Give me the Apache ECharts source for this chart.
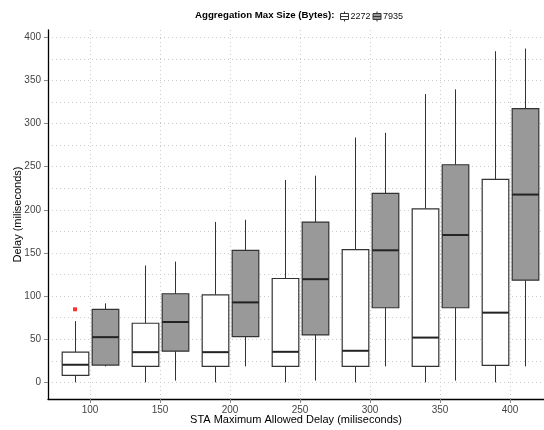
<!DOCTYPE html>
<html>
<head>
<meta charset="utf-8">
<style>
  html, body { margin: 0; padding: 0; background: #fff; }
  #main { width: 544px; height: 430px; }
</style>
<script src="https://cdn.jsdelivr.net/npm/echarts@6/dist/echarts.min.js"></script>
</head>
<body>
<div id="main"></div>
<script>
var categories = [100, 150, 200, 250, 300, 350, 400];
var yTicks = [0, 50, 100, 150, 200, 250, 300, 350, 400];
var yMinor = [25, 75, 125, 175, 225, 275, 325, 375];
var seriesNames = ['2272', '7935'];

// [min, Q1, median, Q3, max] per category
var box2272 = [
  [0, 8, 20.4, 35, 71],
  [0, 18.5, 35, 68.5, 135.5],
  [0, 18.5, 35, 101.5, 186],
  [0, 18.5, 35.4, 120.4, 234.7],
  [0, 18.5, 36.6, 153.9, 283.9],
  [0, 18.5, 51.9, 201.2, 334.3],
  [0, 19.6, 80.8, 235.4, 383.9]
];
var box7935 = [
  [18.5, 20, 52.4, 84.7, 91.6],
  [2, 36.2, 70, 102.7, 140],
  [18.5, 53, 92.7, 153, 188.5],
  [2, 55, 119.6, 185.8, 239.6],
  [18.5, 86.5, 153.1, 219.2, 289.3],
  [2, 86.5, 170.8, 252.3, 339.7],
  [18.5, 118.5, 217.7, 317.3, 387]
];
// outliers of the 2272 series: [category, value]
var outliers2272 = [[100, 84.7]];

var DODGE = 10.7;
var BOX_W = 19;

var chartDom = document.getElementById('main');
var myChart = echarts.init(chartDom);

function renderBox(params, api) {
  var x = api.value(0);
  var lo = api.coord([x, api.value(1)]);
  var q1 = api.coord([x, api.value(2)]);
  var med = api.coord([x, api.value(3)]);
  var q3 = api.coord([x, api.value(4)]);
  var hi = api.coord([x, api.value(5)]);
  var half = api.size([BOX_W, 0])[0] / 2;
  var cx = Math.round(lo[0]) + 0.5;
  var line = { stroke: '#333', lineWidth: 1 };
  return {
    type: 'group',
    children: [
      { type: 'line', shape: { x1: cx, y1: hi[1], x2: cx, y2: q3[1] }, style: line },
      { type: 'line', shape: { x1: cx, y1: q1[1], x2: cx, y2: lo[1] }, style: line },
      {
        type: 'rect',
        shape: { x: cx - half, y: q3[1], width: half * 2, height: q1[1] - q3[1] },
        style: { fill: api.visual('color'), stroke: '#333', lineWidth: 1.2 }
      },
      { type: 'line', shape: { x1: cx - half, y1: med[1], x2: cx + half, y2: med[1] }, style: { stroke: '#222', lineWidth: 2 } }
    ]
  };
}

function toItems(rows, shift) {
  return rows.map(function (r, i) {
    return [categories[i] + shift].concat(r);
  });
}

var gridLine = { show: true, lineStyle: { color: '#cccccc', width: 1, type: [1, 3] } };
var font = 'Liberation Sans, Arial, sans-serif';

var option = {
  animation: false,
  title: {
    text: 'Aggregation Max Size (Bytes):',
    left: 190,
    top: 5,
    textStyle: { fontSize: 9.7, fontWeight: 'bold', color: '#000', fontFamily: font }
  },
  legend: {
    data: seriesNames,
    left: 335,
    top: 6,
    itemWidth: 8,
    itemHeight: 10,
    itemGap: 2,
    icon: 'path://M4,0L4,2M0,2L8,2L8,8L0,8ZM0,5L8,5M4,8L4,10',
    itemStyle: { borderColor: '#333', borderWidth: 1 },
    textStyle: { fontSize: 9, color: '#111', fontFamily: font, padding: [0, 0, 0, -3] }
  },
  grid: { left: 48, right: 0, top: 30, bottom: 31, outerBoundsMode: 'none' },
  xAxis: {
    type: 'value',
    min: 70,
    max: 424.3,
    name: 'STA Maximum Allowed Delay (miliseconds)',
    nameLocation: 'middle',
    nameGap: 15,
    nameMoveOverlap: false,
    nameTextStyle: { fontSize: 11, color: '#000', fontFamily: font },
    axisLine: { show: true, onZero: false, lineStyle: { color: '#000', width: 1.3 } },
    axisTick: { show: true, length: 4, customValues: categories, lineStyle: { color: '#888' } },
    axisLabel: { customValues: categories, fontSize: 10, color: '#444', margin: 6, fontFamily: font },
    splitLine: gridLine
  },
  yAxis: [
    {
      type: 'value',
      min: -19.3,
      max: 408.5,
      name: 'Delay (miliseconds)',
      nameLocation: 'middle',
      nameGap: 25,
      nameMoveOverlap: false,
      nameTextStyle: { fontSize: 11, color: '#000', fontFamily: font },
      axisLine: { show: true, onZero: false, lineStyle: { color: '#000', width: 1.3 } },
      axisTick: { show: true, length: 4, customValues: yTicks, lineStyle: { color: '#888' } },
      axisLabel: { customValues: yTicks, fontSize: 10, color: '#444', margin: 7, fontFamily: font },
      splitLine: gridLine
    },
    {
      type: 'value',
      min: -19.3,
      max: 408.5,
      position: 'left',
      axisLine: { show: false },
      axisTick: { show: false, customValues: yMinor },
      axisLabel: { show: false, customValues: yMinor },
      splitLine: gridLine
    }
  ],
  series: [
    {
      name: seriesNames[0],
      type: 'custom',
      renderItem: renderBox,
      itemStyle: { color: '#ffffff', borderColor: '#333' },
      encode: { x: 0, y: [1, 2, 3, 4, 5] },
      data: toItems(box2272, -DODGE),
      z: 3
    },
    {
      name: seriesNames[1],
      type: 'custom',
      renderItem: renderBox,
      itemStyle: { color: '#999999', borderColor: '#333' },
      encode: { x: 0, y: [1, 2, 3, 4, 5] },
      data: toItems(box7935, DODGE),
      z: 3
    },
    {
      name: 'outliers',
      type: 'scatter',
      symbol: 'rect',
      symbolSize: 4,
      itemStyle: { color: '#ff0000' },
      data: outliers2272.map(function (p) { return [p[0] - DODGE, p[1]]; }),
      z: 4
    }
  ]
};

option && myChart.setOption(option);
</script>
</body>
</html>
